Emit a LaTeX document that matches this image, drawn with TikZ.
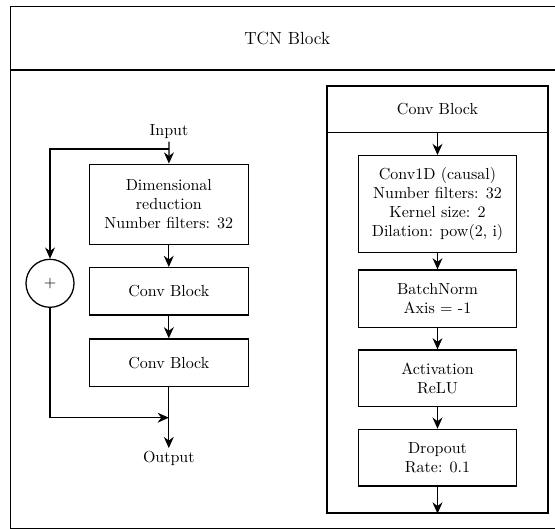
\documentclass[tikz,border=0pt]{standalone}
\usetikzlibrary{arrows.meta}
\begin{document}
\begin{tikzpicture}[x=0.625pt,y=-0.625pt,
  line/.style={thick},
  arr/.style={thick,-{Stealth[length=7pt,width=6.2pt]}},
  frame/.style={draw,thick,rectangle,inner sep=0pt,anchor=center},
  stage/.style={frame,minimum width=99.4pt,align=center},
  label/.style={inner sep=1.5pt}]
\useasboundingbox (0,0) rectangle (555,529);
\clip (0,0) rectangle (555,529);

% outer TCN frame, header and body
\node[frame,minimum width=345.9pt,minimum height=39.7pt,font=\fontsize{11}{13}\selectfont] (tcnhead) at (287.25,38.25) {TCN Block};
\node[frame,minimum width=345.9pt,minimum height=286.6pt] (tcnbody) at (287.25,299.25) {};

% left column: residual stack
\node[label] (in) at (169,132) {Input};
\node[stage,minimum height=50pt] (dimred) at (168.8,204.2) {Dimensional\\reduction\\Number filters: 32};
\node[stage,minimum height=29.6pt] (conv1) at (168.8,291.3) {Conv Block};
\node[stage,minimum height=29.8pt] (conv2) at (168.8,362.8) {Conv Block};
\node[label] (out) at (168.8,458) {Output};
\node[draw,thick,circle,minimum size=30pt,inner sep=0pt] (sum) at (50,283.3) {+};
\coordinate (br) at (168.8,149);
\coordinate (mg) at (168.8,417.7);

\draw[arr] (in) -- (dimred);
\draw[arr] (br) -| (sum.north);
\draw[arr] (dimred) -- (conv1);
\draw[arr] (conv1) -- (conv2);
\draw[arr] (conv2) -- (out);
\draw[arr] (sum) |- (mg);

% right column: inside of a conv block
\node[frame,minimum width=138.1pt,minimum height=28.9pt] (cbhead) at (437.5,109.2) {Conv Block};
\node[frame,minimum width=138.1pt,minimum height=237.9pt] (cbbody) at (437.5,322.6) {};
\node[stage,minimum width=99pt,minimum height=60.4pt] (conv1d) at (437.5,204) {Conv1D (causal)\\Number filters: 32\\Kernel size: 2\\Dilation: pow(2, i)};
\node[stage,minimum width=99pt,minimum height=36pt] (bn) at (437.5,298.8) {BatchNorm\\Axis = -1};
\node[stage,minimum width=99pt,minimum height=35.4pt] (act) at (437.5,378.3) {Activation\\ReLU};
\node[stage,minimum width=99pt,minimum height=35.4pt] (drop) at (437.5,457.7) {Dropout\\Rate: 0.1};

\draw[arr] (cbhead) -- (conv1d);
\draw[arr] (conv1d) -- (bn);
\draw[arr] (bn) -- (act);
\draw[arr] (act) -- (drop);
\draw[arr] (drop) -- (cbbody.south);
\end{tikzpicture}
\end{document}
